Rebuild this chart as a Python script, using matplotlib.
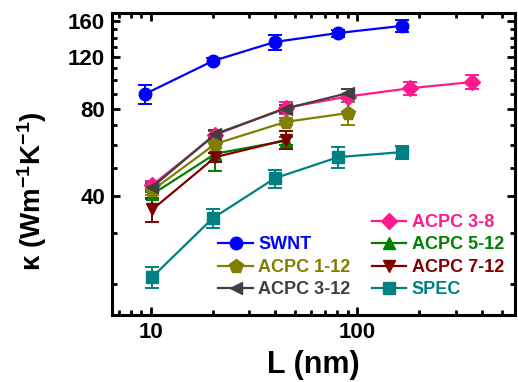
import matplotlib
matplotlib.use("Agg")
import matplotlib.pyplot as plt
from matplotlib.lines import Line2D
from matplotlib.ticker import FixedLocator, NullFormatter, LogLocator, FixedFormatter

plt.rcParams['font.family'] = ['Liberation Sans', 'DejaVu Sans']
plt.rcParams['font.weight'] = 'bold'
plt.rcParams['mathtext.fontset'] = 'custom'
plt.rcParams['mathtext.rm'] = 'Liberation Sans:bold'
plt.rcParams['mathtext.bf'] = 'Liberation Sans:bold'
plt.rcParams['mathtext.default'] = 'bf'

# data
swnt_L = [9.4, 20, 40, 81, 165]
swnt_k = [89.8, 116.6, 135.6, 145.5, 154]
swnt_err = [7, 3, 8, 4, 7]

acpc38_L = [10.2, 20.6, 45, 90, 180, 360]
acpc38_k = [43.7, 65, 80.5, 88, 94, 98.7]
acpc38_err = [1.5, 2, 4, 2, 5, 5.5]

acpc512_L = [10.2, 20.6, 45]
acpc512_k = [40.6, 56, 62]
acpc512_err = [1.5, 7, 2]

acpc712_L = [10.2, 20.6, 45]
acpc712_k = [36, 54.5, 62.4]
acpc712_err = [3.5, 2, 4.5]

spec_L = [10.2, 20, 40, 81, 165]
spec_k = [21.1, 33.6, 46.1, 54.5, 56.7]
spec_err = [1.7, 2.5, 3.3, 4.5, 3]

acpc112_L = [10.2, 20.6, 45, 90]
acpc112_k = [41.9, 60.5, 72, 77.2]
acpc112_err = [1.5, 2, 2, 7]

acpc312_L = [10.2, 20.6, 45, 90]
acpc312_k = [43, 65.5, 80, 90.4]
acpc312_err = [1.5, 2, 2.5, 3]

series = [
    ("SWNT", swnt_L, swnt_k, swnt_err, "#0000ff", "o", 9),
    ("ACPC 3-8", acpc38_L, acpc38_k, acpc38_err, "#ff1a8c", "D", 8),
    ("ACPC 5-12", acpc512_L, acpc512_k, acpc512_err, "#008000", "^", 9),
    ("ACPC 7-12", acpc712_L, acpc712_k, acpc712_err, "#800000", "v", 9),
    ("SPEC", spec_L, spec_k, spec_err, "#008080", "s", 8),
    ("ACPC 1-12", acpc112_L, acpc112_k, acpc112_err, "#808000", "p", 10),
    ("ACPC 3-12", acpc312_L, acpc312_k, acpc312_err, "#404040", "<", 9),
]

fig = plt.figure(figsize=(5.18, 3.82), dpi=100)
ax = fig.add_axes([0.216, 0.175, 0.778, 0.791])

handles = {}
for name, L, k, err, col, mk, ms in series:
    ax.errorbar(L, k, yerr=err, color=col, marker=mk, markersize=ms,
                linewidth=1.6, elinewidth=1.4, capsize=5, capthick=1.4)
    handles[name] = Line2D([], [], color=col, marker=mk, markersize=ms,
                           linewidth=1.6, label=name)

ax.set_xscale("log")
ax.set_yscale("log")
ax.set_xlim(6.5, 580)
ax.set_ylim(15.6, 170.5)

ax.xaxis.set_major_locator(FixedLocator([10, 100]))
ax.xaxis.set_major_formatter(FixedFormatter(["10", "100"]))
ax.xaxis.set_minor_locator(LogLocator(base=10, subs=range(2, 10)))
ax.xaxis.set_minor_formatter(NullFormatter())
ax.yaxis.set_major_locator(FixedLocator([40, 80, 120, 160]))
ax.yaxis.set_major_formatter(FixedFormatter(["40", "80", "120", "160"]))
ax.yaxis.set_minor_locator(FixedLocator(range(20, 171, 10)))
ax.yaxis.set_minor_formatter(NullFormatter())

ax.tick_params(which="both", direction="in", top=True, right=True, width=2)
ax.tick_params(which="major", length=6, labelsize=16, pad=5)
ax.tick_params(which="minor", length=3.5)
for s in ax.spines.values():
    s.set_linewidth(2.2)

ax.set_xlabel("L (nm)", fontsize=22, fontweight="bold", labelpad=5)
ax.set_ylabel(r"κ (Wm$^{-1}$K$^{-1}$)", fontsize=20, fontweight="bold")
ax.yaxis.set_label_coords(-0.155, 0.41)

blank = Line2D([], [], linestyle="none", label=" ")
order = [blank, handles["SWNT"], handles["ACPC 1-12"], handles["ACPC 3-12"],
         handles["ACPC 3-8"], handles["ACPC 5-12"], handles["ACPC 7-12"], handles["SPEC"]]
leg = ax.legend(handles=order, ncol=2, loc="lower right", bbox_to_anchor=(1.0, 0.02),
                frameon=False, fontsize=13, handlelength=1.9, handletextpad=0.3,
                columnspacing=1.2, labelspacing=0.3, borderaxespad=0.2)
for h, t in zip(order, leg.get_texts()):
    t.set_color(h.get_color())
    t.set_fontweight("bold")

fig.savefig("out.png", dpi=100)
